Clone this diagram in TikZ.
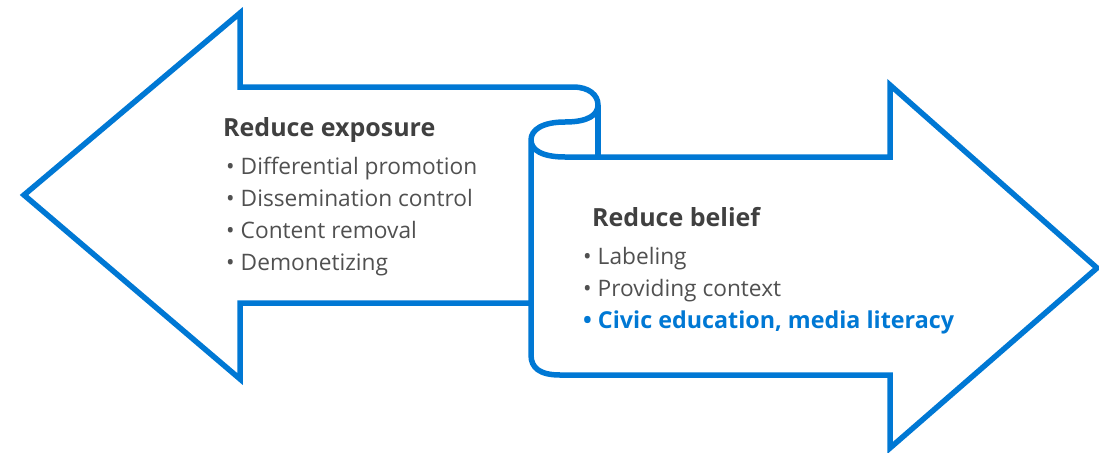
\documentclass[tikz,border=0pt]{standalone}
\usepackage{fontspec}
\setmainfont{Open Sans}
\definecolor{msblue}{RGB}{0,120,212}
\definecolor{headgray}{RGB}{64,64,64}
\definecolor{textgray}{RGB}{80,80,80}
\begin{document}
\begin{tikzpicture}[x=1pt,y=-1pt,
  outline/.style={draw=msblue,line width=5.5pt,line join=miter,miter limit=20},
  head/.style={anchor=base west,inner sep=0pt,font=\fontsize{25}{28}\selectfont\bfseries,text=headgray},
  item/.style={anchor=base west,inner sep=0pt,font=\fontsize{22.7}{27}\selectfont,text=textgray},
  hot/.style={anchor=base west,inner sep=0pt,font=\fontsize{23.3}{27}\selectfont\bfseries,text=msblue}]
\useasboundingbox (0,0) rectangle (1099,452);
% arrows outline with scroll
\draw[outline] (531,303) -- (240,303) -- (240,379) -- (24,195) -- (240,13) -- (240,87) -- (573,87)
  .. controls (589,87) and (598,95) .. (598,105)
  .. controls (598,115) and (588,122) .. (565,122)
  .. controls (542,122) and (531,130) .. (531,140)
  -- (531,355) .. controls (531,368) and (540,375) .. (560,375)
  -- (890,375) -- (890,448) -- (1097,268) -- (890,85) -- (890,157) -- (565,157)
  .. controls (542,157) and (531,150) .. (531,140);
\draw[outline] (598,105) -- (598,157);
% left texts
\node[head] (h1) at (223,136) {Reduce exposure};
\node[item] (a1) at (226,174) {\textbullet\hspace{6pt}Differential promotion};
\node[item] (a2) at (226,206) {\textbullet\hspace{6pt}Dissemination control};
\node[item] (a3) at (226,238) {\textbullet\hspace{6pt}Content removal};
\node[item] (a4) at (226,270) {\textbullet\hspace{6pt}Demonetizing};
% right texts
\node[head] (h2) at (592,226) {Reduce belief};
\node[item] (b1) at (583,264) {\textbullet\hspace{6pt}Labeling};
\node[item] (b2) at (583,296) {\textbullet\hspace{6pt}Providing context};
\node[hot] (b3) at (583,328) {\textbullet\hspace{6pt}Civic education, media literacy};
\end{tikzpicture}
\end{document}
